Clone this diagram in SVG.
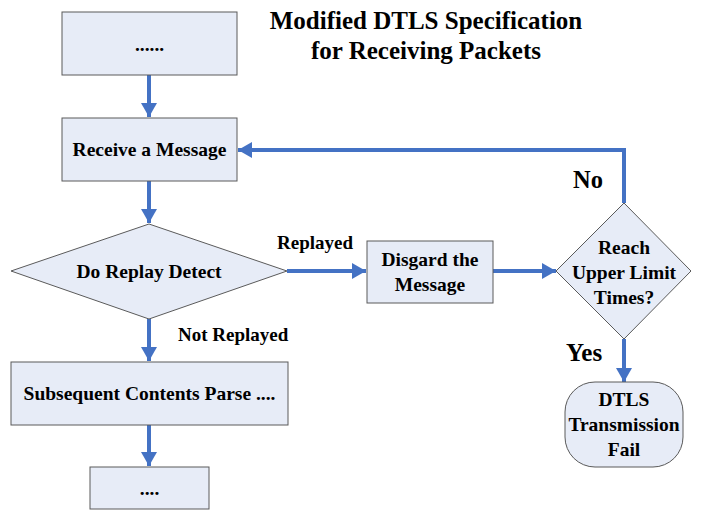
<svg xmlns="http://www.w3.org/2000/svg" width="722" height="516" viewBox="0 0 722 516">
<defs>
<style>
.n{fill:#E7ECF7;stroke:#5A5A5A;stroke-width:1}
.t{font-family:"Liberation Serif","Times New Roman",serif;font-weight:bold;font-size:19.5px;fill:#000;text-anchor:middle}
.lb{font-family:"Liberation Serif","Times New Roman",serif;font-weight:bold;fill:#000}
.c{fill:none;stroke:#4472C4;stroke-width:4;marker-end:url(#ah)}
</style>
<marker id="ah" viewBox="0 0 14 16" refX="14" refY="8" markerWidth="14" markerHeight="16" markerUnits="userSpaceOnUse" orient="auto">
<path d="M0,0 L14,8 L0,16 Z" fill="#4472C4"/>
</marker>
</defs>
<rect width="722" height="516" fill="#fff"/>
<g id="title">
<text class="lb" x="426" y="29" font-size="25" text-anchor="middle">Modified DTLS Specification</text>
<text class="lb" x="426" y="59" font-size="25" text-anchor="middle">for Receiving Packets</text>
</g>
<g id="connectors">
<path class="c" d="M149,75 V117"/>
<path class="c" d="M149,181 V223"/>
<path class="c" d="M287,271 H366"/>
<path class="c" d="M493,271 H556"/>
<path class="c" d="M624,203 V150 H238"/>
<path class="c" d="M149,319 V361"/>
<path class="c" d="M624,339 V382"/>
<path class="c" d="M149,425 V466"/>
</g>
<g id="labels">
<text class="lb" x="277" y="249" font-size="19">Replayed</text>
<text class="lb" x="178" y="341" font-size="19">Not Replayed</text>
<text class="lb" x="573" y="188" font-size="24.5">No</text>
<text class="lb" x="566" y="361" font-size="25">Yes</text>
</g>
<g id="start">
<rect class="n" x="62" y="12" width="175" height="63"/>
<text class="t" x="149.5" y="51">......</text>
</g>
<g id="receive">
<rect class="n" x="62" y="118" width="175" height="63"/>
<text class="t" x="149.5" y="156">Receive a Message</text>
</g>
<g id="replay">
<polygon class="n" points="149,224 287,271 149,319 11,271"/>
<text class="t" x="149" y="278">Do Replay Detect</text>
</g>
<g id="discard">
<rect class="n" x="367" y="241" width="126" height="62"/>
<text class="t" x="430" y="266">Disgard the</text>
<text class="t" x="430" y="291">Message</text>
</g>
<g id="limit">
<polygon class="n" points="624,203 691,271 624,339 556,271"/>
<text class="t" x="624" y="254">Reach</text>
<text class="t" x="624" y="279">Upper Limit</text>
<text class="t" x="624" y="304">Times?</text>
</g>
<g id="fail">
<rect class="n" x="565" y="382" width="118" height="85" rx="30" ry="30"/>
<text class="t" x="624" y="406">DTLS</text>
<text class="t" x="624" y="431">Transmission</text>
<text class="t" x="624" y="456">Fail</text>
</g>
<g id="parse">
<rect class="n" x="11" y="362" width="277" height="63"/>
<text class="t" x="149.5" y="400">Subsequent Contents Parse ....</text>
</g>
<g id="end">
<rect class="n" x="90" y="467" width="119" height="42"/>
<text class="t" x="149.5" y="495">....</text>
</g>
</svg>
